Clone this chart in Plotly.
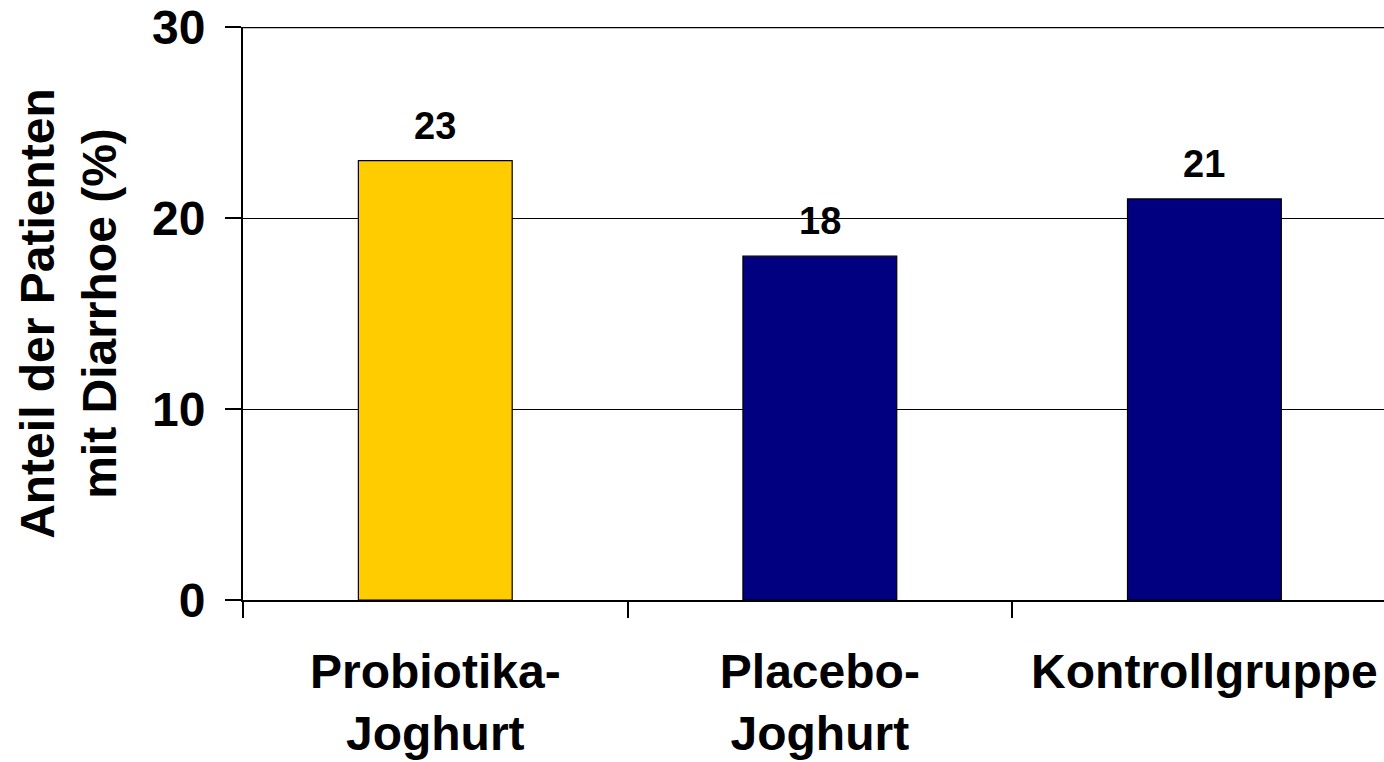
import plotly.graph_objects as go

# Share of patients with diarrhoea per study group
categories = ["Probiotika-<br>Joghurt", "Placebo-<br>Joghurt", "Kontrollgruppe"]
values = [23, 18, 21]
bar_colors = ["#FFCC00", "#000080", "#000080"]
y_ticks = [0, 10, 20, 30]
y_title = "Anteil der Patienten<br>mit Diarrhoe (%)"

FONT = "Arial, 'Liberation Sans', Helvetica, sans-serif"

fig = go.Figure()
fig.add_trace(go.Bar(
    x=categories,
    y=values,
    width=0.4,
    marker=dict(color=bar_colors, line=dict(color="#000000", width=1.2)),
    hoverinfo="skip",
))

# value labels above each bar
for cat, val in zip(categories, values):
    fig.add_annotation(
        x=cat, y=val, text=str(val), showarrow=False,
        yanchor="bottom", yshift=12,
        font=dict(family=FONT, size=38, color="#000000", weight="bold"),
    )

# heavier frame line along the top of the value range
fig.add_shape(type="line", xref="paper", x0=0, x1=1, yref="y",
              y0=y_ticks[-1], y1=y_ticks[-1],
              line=dict(color="#000000", width=2.5), layer="above")

fig.update_layout(
    width=1384, height=762,
    margin=dict(l=243, r=0, t=27, b=162),
    paper_bgcolor="white", plot_bgcolor="white",
    showlegend=False,
    font=dict(family=FONT, color="#000000"),
)

fig.update_xaxes(
    range=[-0.5, 2.467],
    showline=True, linecolor="#000000", linewidth=2,
    showgrid=False, zeroline=False,
    tickson="boundaries", ticks="outside", ticklen=16, tickwidth=1.5, tickcolor="#000000",
    tickfont=dict(family=FONT, size=48, color="#000000", weight="bold"),
    ticklabelstandoff=28,
)

fig.update_yaxes(
    range=[0, 30],
    tickvals=y_ticks,
    showline=True, linecolor="#000000", linewidth=2,
    showgrid=True, gridcolor="#000000", gridwidth=1.2,
    zeroline=False,
    ticks="outside", ticklen=16, tickwidth=1.5, tickcolor="#000000",
    tickfont=dict(family=FONT, size=48, color="#000000", weight="bold"),
    ticklabelstandoff=10,
    title=dict(text=y_title, standoff=20,
               font=dict(family=FONT, size=48, color="#000000", weight="bold")),
)

fig.write_html("out.html")
